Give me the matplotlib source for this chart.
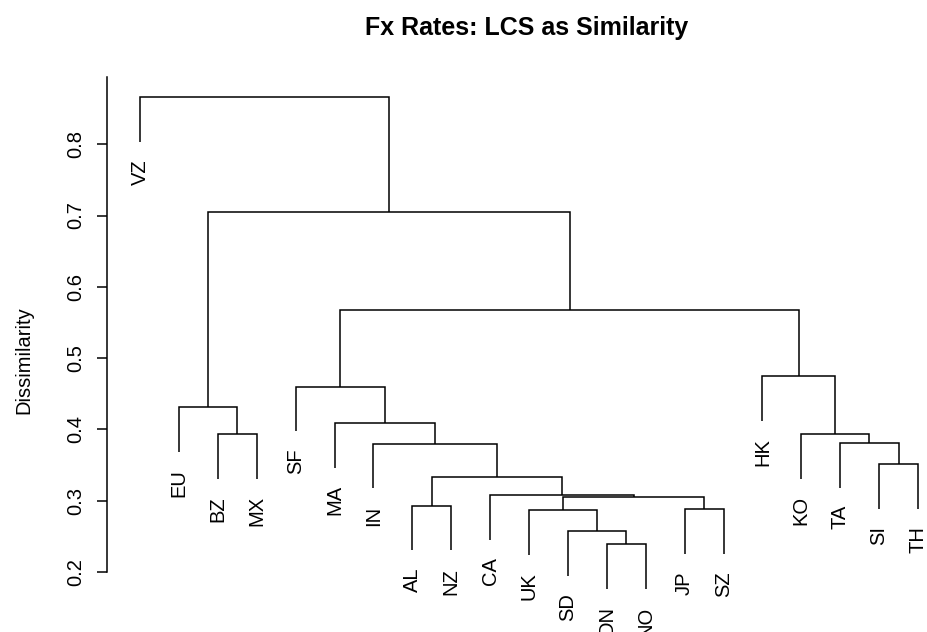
import matplotlib.pyplot as plt
import numpy as np

plt.rcParams['font.family'] = ['Liberation Sans', 'DejaVu Sans']

# Leaves in plotting order
labels = ['VZ', 'EU', 'BZ', 'MX', 'SF', 'MA', 'IN', 'AL', 'NZ', 'CA', 'UK',
          'SD', 'DN', 'NO', 'JP', 'SZ', 'HK', 'KO', 'TA', 'SI', 'TH']

# R-style merge table: negative = leaf (1-based), positive = earlier merge row
merge_left = [-13, -12, -11, -15, -8, 3, -10, 5, -20, -7,
              -19, -18, -3, -6, -2, -5, -17, 16, 15, -1]
merge_right = [-14, 1, 2, -16, -9, 4, 6, 7, -21, 8,
               9, 11, -4, 10, 13, 14, 12, 17, 18, 19]
merge_height = [0.239, 0.257, 0.2865, 0.288, 0.293, 0.305, 0.308, 0.333, 0.351, 0.380,
                0.381, 0.3935, 0.3935, 0.409, 0.431, 0.460, 0.475, 0.567, 0.705, 0.866]

yticks = [0.2, 0.3, 0.4, 0.5, 0.6, 0.7, 0.8]

W, H = 927, 632
fig = plt.figure(figsize=(W / 100, H / 100), dpi=100, facecolor='white')

# plot region in pixels (R-like, partly cropped at right and bottom)
left_px, right_px, top_px, bot_px = 107, 949, 73, 641
ax = fig.add_axes([left_px / W, (H - bot_px) / H,
                   (right_px - left_px) / W, (bot_px - top_px) / H])

n = len(labels)
hang = 0.1 * (max(merge_height) - min(merge_height))

node_x = {}
lw = 1.1
col = 'black'


def child_pos(c, parent_h):
    if c < 0:
        return c * -1.0, parent_h - hang, True
    return node_x[c], merge_height[c - 1], False


for i, (a, b, h) in enumerate(zip(merge_left, merge_right, merge_height), start=1):
    xa, ya, la = child_pos(a, h)
    xb, yb, lb = child_pos(b, h)
    ax.plot([xa, xa, xb, xb], [ya, h, h, yb], color=col, lw=lw,
            solid_joinstyle='miter', solid_capstyle='butt')
    node_x[i] = (xa + xb) / 2
    for leaf, x, y in ((la, xa, ya), (lb, xb, yb)):
        if leaf:
            ax.annotate(labels[int(x) - 1], (x, y), xytext=(0, -12.5),
                        textcoords='offset points', rotation=90,
                        ha='center', va='top', fontsize=14.5, color=col,
                        annotation_clip=False)

spacing = 38.9
ax.set_xlim(1 - (140 - left_px) / spacing, 1 + (right_px - 140) / spacing)
ppu = 713.0
ax.set_ylim(0.2 - (bot_px - 572) / ppu, 0.2 + (572 - top_px) / ppu)

for s in ['top', 'right', 'bottom']:
    ax.spines[s].set_visible(False)
ax.spines['left'].set_bounds(0.2, 0.894)
ax.spines['left'].set_linewidth(lw)
ax.set_xticks([])
ax.set_yticks(yticks)
ax.set_yticklabels([f'{t:.1f}' for t in yticks])
ax.tick_params(axis='y', length=7, width=lw, pad=9, labelsize=14.5,
               labelrotation=90)
for lbl in ax.get_yticklabels():
    lbl.set_va('center')
ax.set_facecolor('none')

fig.text(24 / W, 1 - 360 / H, 'Dissimilarity', rotation=90,
         ha='center', va='center', fontsize=14.5)
fig.text(527 / W, 1 - 35 / H, 'Fx Rates: LCS as Similarity',
         ha='center', va='baseline', fontsize=18, fontweight='bold')

fig.savefig('out.png', dpi=100, facecolor='white')
